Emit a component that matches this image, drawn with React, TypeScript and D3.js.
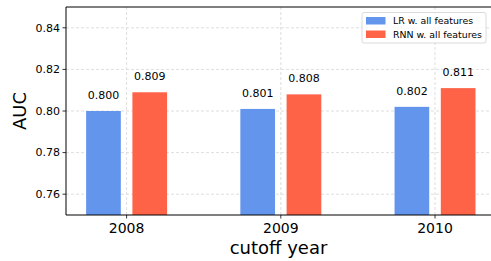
import React, { useRef, useEffect } from 'react';
import * as d3 from 'd3';

const years = ['2008', '2009', '2010'];
const lrValues = [0.800, 0.801, 0.802];
const rnnValues = [0.809, 0.808, 0.811];
const seriesNames = ['LR w. all features', 'RNN w. all features'];
const seriesColors = ['#6495ED', '#FF6347'];
const yTicks = [0.76, 0.78, 0.80, 0.82, 0.84];

function App() {
  const ref = useRef<SVGSVGElement>(null);

  useEffect(() => {
    const svg = d3.select(ref.current);
    svg.selectAll('*').remove();

    const width = 491;
    const height = 261;
    const m = { left: 66, right: 491, top: 7, bottom: 215 };
    const font = 'DejaVu Sans, sans-serif';

    svg.attr('width', width).attr('height', height).style('background', 'white');

    const x = d3.scaleLinear().domain([-0.393, 2.363]).range([m.left, m.right]);
    const y = d3.scaleLinear().domain([0.75, 0.85]).range([m.bottom, m.top]);
    const barW = 0.225;
    const offset = 0.15;

    const g = svg.append('g');

    // grid
    g.selectAll('.gy').data(yTicks).enter().append('line')
      .attr('x1', m.left).attr('x2', m.right)
      .attr('y1', d => y(d)).attr('y2', d => y(d))
      .attr('stroke', '#d6d6d6').attr('stroke-width', 0.8).attr('stroke-dasharray', '3,2');
    g.selectAll('.gx').data(years).enter().append('line')
      .attr('x1', (d, i) => x(i)).attr('x2', (d, i) => x(i))
      .attr('y1', m.top).attr('y2', m.bottom)
      .attr('stroke', '#d6d6d6').attr('stroke-width', 0.8).attr('stroke-dasharray', '3,2');

    // bars
    [lrValues, rnnValues].forEach((vals, s) => {
      const dx = s === 0 ? -offset : offset;
      g.selectAll('.bar' + s).data(vals).enter().append('rect')
        .attr('x', (d, i) => x(i + dx - barW / 2))
        .attr('width', x(barW) - x(0))
        .attr('y', d => y(d))
        .attr('height', d => m.bottom - y(d))
        .attr('fill', seriesColors[s]);
      g.selectAll('.lab' + s).data(vals).enter().append('text')
        .attr('x', (d, i) => x(i + dx))
        .attr('y', d => y(d) - 12)
        .attr('text-anchor', 'middle')
        .style('font-family', font).style('font-size', '11px').style('fill', '#000')
        .text(d => d.toFixed(3));
    });

    // spines
    g.append('line').attr('x1', m.left).attr('x2', m.left).attr('y1', m.top).attr('y2', m.bottom)
      .attr('stroke', '#000').attr('stroke-width', 1);
    g.append('line').attr('x1', m.left).attr('x2', m.right).attr('y1', m.bottom).attr('y2', m.bottom)
      .attr('stroke', '#000').attr('stroke-width', 1);
    g.append('line').attr('x1', m.left).attr('x2', m.right).attr('y1', m.top).attr('y2', m.top)
      .attr('stroke', '#000').attr('stroke-width', 1);

    // y ticks
    yTicks.forEach(t => {
      g.append('line').attr('x1', m.left - 3.5).attr('x2', m.left).attr('y1', y(t)).attr('y2', y(t))
        .attr('stroke', '#000').attr('stroke-width', 0.8);
      g.append('text').attr('x', m.left - 6).attr('y', y(t)).attr('dy', '0.35em')
        .attr('text-anchor', 'end')
        .style('font-family', font).style('font-size', '11px').style('fill', '#000')
        .text(t.toFixed(2));
    });

    // x ticks
    years.forEach((yr, i) => {
      g.append('line').attr('x1', x(i)).attr('x2', x(i)).attr('y1', m.bottom).attr('y2', m.bottom + 3.5)
        .attr('stroke', '#000').attr('stroke-width', 0.8);
      g.append('text').attr('x', x(i)).attr('y', m.bottom + 18)
        .attr('text-anchor', 'middle')
        .style('font-family', font).style('font-size', '14px').style('fill', '#000')
        .text(yr);
    });

    // axis labels
    svg.append('text').attr('x', (m.left + m.right) / 2).attr('y', 254)
      .attr('text-anchor', 'middle')
      .style('font-family', font).style('font-size', '18px').style('fill', '#000')
      .text('cutoff year');
    svg.append('text')
      .attr('transform', `translate(26, ${(m.top + m.bottom) / 2}) rotate(-90)`)
      .attr('text-anchor', 'middle')
      .style('font-family', font).style('font-size', '18px').style('fill', '#000')
      .text('AUC');

    // legend
    const lg = svg.append('g').attr('transform', 'translate(362, 12.5)');
    lg.append('rect').attr('width', 124).attr('height', 30.5).attr('rx', 2)
      .attr('fill', 'white').attr('fill-opacity', 0.8)
      .attr('stroke', '#d0d0d0').attr('stroke-width', 0.8);
    seriesNames.forEach((name, i) => {
      lg.append('rect').attr('x', 4).attr('y', 4.5 + i * 13.5).attr('width', 19.5).attr('height', 7.5)
        .attr('fill', seriesColors[i]);
      lg.append('text').attr('x', 31).attr('y', 8.5 + i * 13.5).attr('dy', '0.35em')
        .style('font-family', font).style('font-size', '9.4px').style('fill', '#000')
        .text(name);
    });
  }, []);

  return <svg ref={ref} style={{ position: 'absolute', left: 0, top: 0 }}></svg>;
}

export default App;
